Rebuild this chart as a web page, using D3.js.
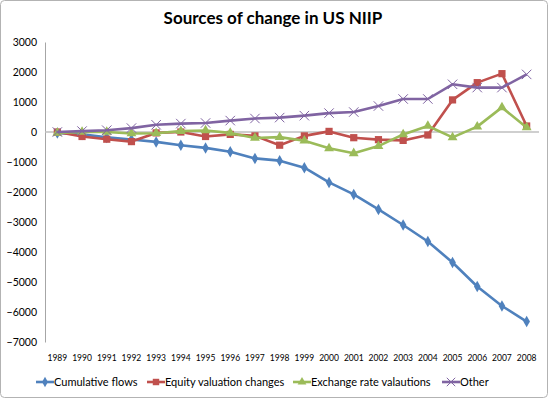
<!DOCTYPE html>
<meta charset="utf-8">
<body>
<script src="https://cdn.jsdelivr.net/npm/d3@7"></script>
<style>
    html, body {
        margin: 0;
        background: #fff;
    }
    text {
        font-family: "Lato", "Liberation Sans", sans-serif;
        fill: #000;
    }
</style>
<script>
var years = d3.range(1989, 2009).map(String);
var yTicks = [3000, 2000, 1000, 0, -1000, -2000, -3000, -4000, -5000, -6000, -7000];

var cumulativeFlows = [-30, -80, -180, -250, -330, -440, -530, -660, -880, -955,
    -1190, -1680, -2080, -2580, -3100, -3650, -4350, -5150, -5800, -6320];
var equityValuation = [0, -150, -240, -320, -30, 0, -150, -80, -130, -440,
    -130, 20, -190, -255, -280, -100, 1070, 1645, 1945, 200];
var exchangeRate = [-30, 0, 0, -50, -40, 30, 50, -30, -200, -170,
    -290, -545, -710, -470, -80, 200, -180, 180, 820, 150];
var other = [0, 30, 60, 130, 240, 280, 300, 380, 450, 480,
    545, 630, 665, 865, 1100, 1100, 1590, 1480, 1480, 1920];

var seriesNames = ["Cumulative flows", "Equity valuation changes", "Exchange rate valautions", "Other"];
var seriesColors = ["#4F81BD", "#C0504D", "#9BBB59", "#8064A2"];
var seriesShapes = [d3.symbolDiamond, d3.symbolSquare, d3.symbolTriangle, d3.symbolTimes];
var seriesValues = [cumulativeFlows, equityValuation, exchangeRate, other];
var sizes = [38, 52, 42, 60];

var width = 548, height = 398;

var svg = d3.select("body").append("svg")
    .attr("width", width)
    .attr("height", height);

svg.append("rect")
    .attr("x", 0.5).attr("y", 0.5)
    .attr("width", width - 1).attr("height", height - 1)
    .attr("rx", 4)
    .attr("fill", "#fff")
    .attr("stroke", "#b3b3b3");

svg.append("text")
    .attr("x", 273).attr("y", 24)
    .attr("text-anchor", "middle")
    .style("font-size", "17px")
    .style("font-weight", "bold")
    .text("Sources of change in US NIIP");

var x = d3.scaleBand().domain(years).range([45, 539]);
var y = d3.scaleLinear().domain([-7000, 3000]).range([342, 42]);

function cx(i) { return x(years[i]) + x.bandwidth() / 2; }

// y axis
var yAxis = svg.append("g")
    .attr("transform", "translate(45,0)")
    .call(d3.axisLeft(y).tickValues(yTicks).tickSize(0).tickPadding(8).tickFormat(d3.format("d")));
yAxis.select(".domain").attr("stroke", "#a6a6a6");
yAxis.selectAll("text")
    .style("font-size", "10.5px")
    .style("font-family", "Lato, 'Liberation Sans', sans-serif");

// zero line
svg.append("line")
    .attr("x1", 45).attr("x2", 539)
    .attr("y1", y(0)).attr("y2", y(0))
    .attr("stroke", "#bfbfbf")
    .attr("stroke-width", 1.5);

// year labels
svg.append("g").selectAll("text")
    .data(years)
    .enter().append("text")
    .attr("x", function(d, i) { return cx(i); })
    .attr("y", 361)
    .attr("text-anchor", "middle")
    .style("font-size", "8.5px")
    .text(function(d) { return d; });

var line = d3.line()
    .x(function(d, i) { return cx(i); })
    .y(function(d) { return y(d); });

function marker(sel, k, scale) {
    var p = sel.append("path")
        .attr("d", d3.symbol().type(seriesShapes[k]).size(sizes[k] * scale)());
    if (seriesShapes[k] === d3.symbolTimes) {
        p.attr("fill", "none").attr("stroke", seriesColors[k]).attr("stroke-width", 1);
    } else {
        p.attr("fill", seriesColors[k]);
    }
}

seriesValues.forEach(function(vals, k) {
    var g = svg.append("g");
    g.append("path")
        .datum(vals)
        .attr("fill", "none")
        .attr("stroke", seriesColors[k])
        .attr("stroke-width", 2.6)
        .attr("stroke-linejoin", "round")
        .attr("d", line);
    g.selectAll("g.pt")
        .data(vals)
        .enter().append("g")
        .attr("class", "pt")
        .attr("transform", function(d, i) { return "translate(" + cx(i) + "," + y(d) + ")"; })
        .each(function() { marker(d3.select(this), k, 1); });
});

// legend
var legendX = [36, 147, 293, 442];
var legend = svg.append("g").selectAll("g")
    .data(seriesNames)
    .enter().append("g")
    .attr("transform", function(d, i) { return "translate(" + legendX[i] + ",382)"; });
legend.append("line")
    .attr("x1", 0).attr("x2", 18)
    .attr("stroke", function(d, i) { return seriesColors[i]; })
    .attr("stroke-width", 2.6);
legend.each(function(d, i) {
    marker(d3.select(this).append("g").attr("transform", "translate(9,0)"), i, 0.8);
});
legend.append("text")
    .attr("x", 18).attr("y", 4)
    .style("font-size", "11px")
    .text(function(d) { return d; });
</script>
